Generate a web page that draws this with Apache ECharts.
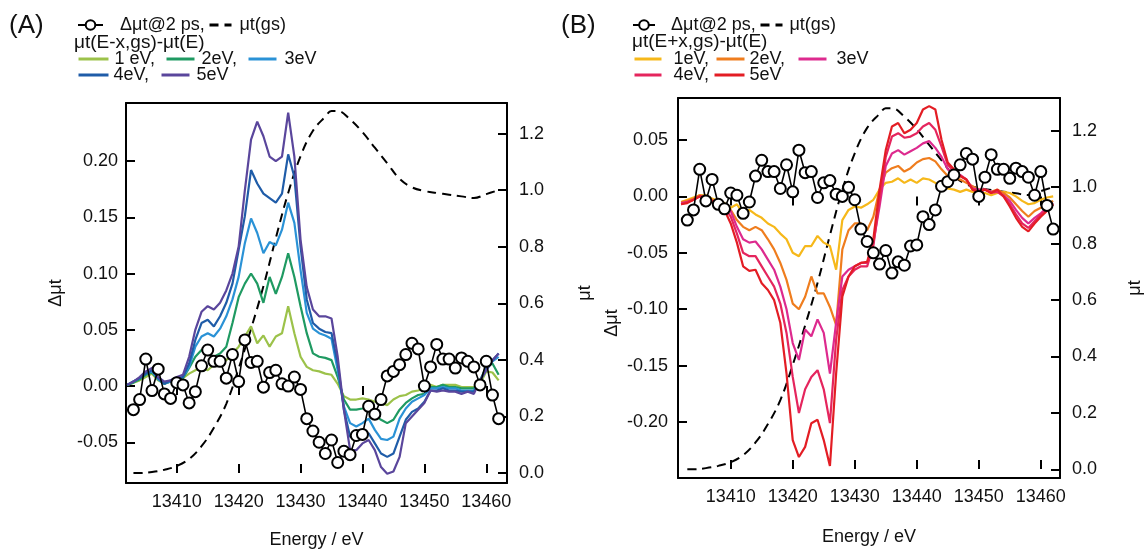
<!DOCTYPE html>
<html><head><meta charset="utf-8">
<script src="https://cdn.jsdelivr.net/npm/echarts@6/dist/echarts.min.js"></script>
<style>html,body{margin:0;padding:0;background:#fff}#c{width:1145px;height:549px}</style>
</head><body><div id="c"></div>
<script>
// ---------------- data ----------------
const energy = [13402,13403,13404,13405,13406,13407,13408,13409,13410,13411,
  13412,13413,13414,13415,13416,13417,13418,13419,13420,13421,
  13422,13423,13424,13425,13426,13427,13428,13429,13430,13431,
  13432,13433,13434,13435,13436,13437,13438,13439,13440,13441,
  13442,13443,13444,13445,13446,13447,13448,13449,13450,13451,
  13452,13453,13454,13455,13456,13457,13458,13459,13460,13461,13462];
const energyDots = [13403,13404,13405,13406,13407,13408,13409,13410,13411,
  13412,13413,13414,13415,13416,13417,13418,13419,13420,13421,
  13422,13423,13424,13425,13426,13427,13428,13429,13430,13431,
  13432,13433,13434,13435,13436,13437,13438,13439,13440,13441,
  13442,13443,13444,13445,13446,13447,13448,13449,13450,13451,
  13452,13453,13454,13455,13456,13457,13458,13459,13460,13461,13462];
const dmu2ps = [-0.021,-0.012,0.024,-0.004,0.015,-0.007,-0.011,0.003,0.001,
  -0.015,-0.005,0.018,0.032,0.022,0.022,0.007,0.028,0.004,0.041,
  0.021,0.022,-0.001,0.012,0.014,0.002,0.000,0.008,-0.003,-0.029,
  -0.040,-0.050,-0.060,-0.048,-0.068,-0.058,-0.061,-0.044,-0.043,-0.018,
  -0.025,-0.012,0.009,0.013,0.019,0.028,0.038,0.033,0.000,0.017,
  0.037,0.024,0.024,0.016,0.025,0.022,0.017,0.001,0.022,-0.008,-0.029];
const energyGs = [13403,13404,13406,13408,13410,13412,13414,13416,13418,13420,13422,13424,13426,13428,13430,
  13432,13434,13435,13436,13438,13440,13442,13444,13446,13448,13450,13452,13454,13456,13458,13460,13462];
const muGs = [0.0,0.0,0.004,0.012,0.025,0.05,0.095,0.16,0.245,0.37,0.51,0.66,0.83,0.99,1.12,
  1.21,1.26,1.28,1.28,1.25,1.205,1.15,1.095,1.04,1.01,0.997,0.99,0.984,0.978,0.972,0.986,1.0];

// panel A : mu(E-x,gs) - mu(E)
const a1 = [0.001,0.003,0.005,0.008,0.011,0.005,0.002,0.004,0.005,0.007,
  0.011,0.014,0.017,0.014,0.019,0.020,0.023,0.029,0.035,0.044,
  0.053,0.038,0.045,0.035,0.044,0.047,0.071,0.047,0.026,0.017,
  0.014,0.013,0.011,0.010,0.002,-0.009,-0.012,-0.012,-0.011,-0.012,
  -0.014,-0.015,-0.017,-0.012,-0.009,-0.008,-0.005,-0.004,-0.002,0.001,
  -0.001,0.001,0.001,0.001,-0.001,-0.001,-0.001,0.002,0.013,0.012,0.005];
const a2 = [0.001,0.003,0.006,0.010,0.012,0.006,0.002,0.004,0.005,0.007,
  0.016,0.026,0.032,0.029,0.026,0.029,0.035,0.056,0.079,0.091,
  0.100,0.091,0.074,0.097,0.082,0.097,0.118,0.097,0.071,0.047,
  0.029,0.026,0.025,0.023,0.008,-0.012,-0.021,-0.021,-0.020,-0.018,
  -0.026,-0.030,-0.033,-0.030,-0.021,-0.015,-0.011,-0.008,-0.007,-0.001,
  -0.001,0.001,-0.001,-0.001,-0.002,-0.002,-0.002,0.005,0.017,0.020,0.010];
const a3 = [0.001,0.004,0.007,0.011,0.013,0.006,0.002,0.004,0.006,0.008,
  0.017,0.035,0.044,0.047,0.044,0.051,0.062,0.077,0.097,0.127,
  0.149,0.136,0.118,0.128,0.125,0.139,0.163,0.145,0.103,0.065,
  0.051,0.047,0.045,0.042,0.014,-0.018,-0.033,-0.036,-0.033,-0.029,
  -0.039,-0.047,-0.048,-0.045,-0.029,-0.020,-0.014,-0.011,-0.008,-0.002,
  -0.002,-0.001,-0.002,-0.002,-0.004,-0.004,-0.004,0.005,0.014,0.022,0.026];
const a4 = [0.001,0.004,0.007,0.011,0.014,0.007,0.002,0.005,0.007,0.008,
  0.020,0.041,0.056,0.059,0.053,0.062,0.074,0.091,0.121,0.151,
  0.192,0.180,0.171,0.167,0.163,0.171,0.206,0.186,0.124,0.077,
  0.056,0.051,0.048,0.047,0.020,-0.021,-0.045,-0.047,-0.044,-0.042,
  -0.051,-0.060,-0.063,-0.060,-0.045,-0.030,-0.023,-0.020,-0.014,-0.004,
  -0.004,-0.002,-0.004,-0.004,-0.005,-0.005,-0.005,0.005,0.016,0.023,0.029];
const a5 = [0.001,0.004,0.008,0.013,0.016,0.008,0.004,0.005,0.008,0.010,
  0.026,0.050,0.066,0.071,0.068,0.074,0.085,0.100,0.124,0.174,
  0.219,0.235,0.222,0.204,0.200,0.204,0.243,0.204,0.130,0.088,
  0.068,0.062,0.062,0.060,0.026,-0.021,-0.057,-0.057,-0.051,-0.048,
  -0.057,-0.072,-0.078,-0.076,-0.063,-0.033,-0.027,-0.021,-0.015,-0.004,
  -0.005,-0.004,-0.005,-0.005,-0.007,-0.005,-0.007,0.005,0.014,0.023,0.029];

// panel B : mu(E+x,gs) - mu(E)
const b1 = [-0.005,-0.003,-0.001,0.001,0.001,-0.002,-0.004,-0.006,-0.010,-0.007,
  -0.015,-0.012,-0.016,-0.019,-0.024,-0.027,-0.033,-0.038,-0.050,-0.053,
  -0.044,-0.044,-0.035,-0.041,-0.044,-0.065,-0.021,-0.012,-0.009,-0.010,
  -0.007,-0.003,0.006,0.012,0.013,0.016,0.012,0.015,0.012,0.016,
  0.015,0.012,0.009,0.007,0.006,0.004,0.006,0.004,0.003,0.003,
  0.001,0.003,0.004,0.003,0.000,-0.004,-0.007,-0.006,-0.003,-0.001,0.000];
const b2 = [-0.005,-0.004,-0.002,0.001,0.000,-0.003,-0.005,-0.007,-0.012,-0.021,
  -0.027,-0.030,-0.027,-0.030,-0.038,-0.047,-0.059,-0.074,-0.095,-0.100,
  -0.089,-0.071,-0.086,-0.086,-0.098,-0.114,-0.047,-0.030,-0.024,-0.024,
  -0.030,-0.018,0.006,0.021,0.025,0.027,0.022,0.025,0.030,0.033,
  0.034,0.031,0.024,0.018,0.016,0.015,0.012,0.009,0.006,0.006,
  0.004,0.006,0.003,-0.001,-0.007,-0.013,-0.018,-0.013,-0.010,-0.007,-0.004];
const b3 = [-0.006,-0.005,-0.003,0.000,-0.001,-0.004,-0.006,-0.008,-0.013,-0.027,
  -0.038,-0.041,-0.040,-0.047,-0.056,-0.065,-0.080,-0.100,-0.130,-0.145,
  -0.118,-0.124,-0.109,-0.121,-0.157,-0.112,-0.071,-0.065,-0.062,-0.059,
  -0.059,-0.041,-0.009,0.027,0.038,0.041,0.037,0.040,0.043,0.047,
  0.049,0.043,0.035,0.024,0.021,0.019,0.015,0.007,0.006,0.006,
  0.004,0.004,0.001,-0.004,-0.012,-0.019,-0.024,-0.019,-0.015,-0.010,-0.006];
const b4 = [-0.007,-0.005,-0.003,0.000,-0.001,-0.004,-0.006,-0.010,-0.018,-0.033,
  -0.050,-0.053,-0.053,-0.062,-0.071,-0.080,-0.095,-0.121,-0.160,-0.192,
  -0.171,-0.160,-0.154,-0.171,-0.201,-0.127,-0.083,-0.071,-0.065,-0.062,
  -0.062,-0.044,-0.003,0.035,0.053,0.056,0.052,0.053,0.056,0.062,
  0.065,0.059,0.044,0.028,0.022,0.018,0.015,0.006,0.004,0.006,
  0.003,0.004,0.000,-0.007,-0.016,-0.024,-0.028,-0.022,-0.016,-0.012,-0.007];
const b5 = [-0.007,-0.006,-0.003,0.000,-0.001,-0.004,-0.006,-0.012,-0.024,-0.041,
  -0.062,-0.066,-0.065,-0.077,-0.083,-0.092,-0.112,-0.157,-0.216,-0.231,
  -0.222,-0.201,-0.198,-0.216,-0.239,-0.157,-0.089,-0.071,-0.062,-0.059,
  -0.058,-0.038,0.006,0.041,0.062,0.065,0.056,0.059,0.065,0.077,
  0.080,0.077,0.050,0.030,0.024,0.018,0.015,0.006,0.004,0.006,
  0.003,0.006,0.000,-0.009,-0.019,-0.027,-0.031,-0.024,-0.018,-0.013,-0.007];

const xTicks = [13410,13420,13430,13440,13450,13460];
const yTicksA = [-0.05,0.00,0.05,0.10,0.15,0.20];
const yTicksB = [-0.20,-0.15,-0.10,-0.05,0.00,0.05];
const muTicks = [0.0,0.2,0.4,0.6,0.8,1.0,1.2];

const namesA = ['1 eV', '2eV', '3eV', '4eV', '5eV'];
const namesB = ['1eV', '2eV', '3eV', '4eV', '5eV'];
const colorsA = ['#9cc24a','#1f9a62','#2a92d6','#1f5ca8','#5a469c'];
const colorsB = ['#f6b81a','#ef7d1e','#dd2a8e','#e5255d','#e31d24'];

// ---------------- chart ----------------
const FONT = "'Liberation Sans', Arial, Helvetica, sans-serif";
const chart = echarts.init(document.getElementById('c'));

const lineCol = '#000';
// inward ticks: outward ticks of a hidden-line axis shifted 9px into the plot
function tickAxis(gi, min, max, pos, ticks) {
  return {
    type: 'value', gridIndex: gi, min, max, position: pos, offset: -9,
    axisLine: { show: false },
    splitLine: { show: false },
    axisTick: { show: true, inside: false, length: 9, customValues: ticks, lineStyle: { width: 2, color: lineCol } },
    axisLabel: { show: false }
  };
}
function frameAxis(gi, min, max, pos, ticks, dec, name, nameGap, margin, namePad) {
  const o = {
    type: 'value', gridIndex: gi, min, max, position: pos,
    axisLine: { show: true, onZero: false, lineStyle: { color: lineCol, width: 2 } },
    splitLine: { show: false },
    axisTick: { show: false },
    axisLabel: { show: !!ticks, customValues: ticks || undefined, margin, fontSize: 18, color: '#111', fontFamily: FONT,
      formatter: v => dec === 0 ? String(Math.round(v)) : v.toFixed(dec) }
  };
  if (name) {
    o.name = name; o.nameLocation = 'middle'; o.nameGap = nameGap;
    o.nameTextStyle = { fontSize: 18, color: '#111', fontFamily: FONT, padding: namePad || 0 };
  }
  return o;
}

function colorLine(name, xi, yi, ys, color) {
  return { name, type: 'line', xAxisIndex: xi, yAxisIndex: yi,
    data: energy.map((e, i) => [e, ys[i]]), symbol: 'none',
    lineStyle: { color, width: 2.2 }, itemStyle: { color }, z: 3 };
}
function gsLine(name, xi, yi) {
  return { name, type: 'line', xAxisIndex: xi, yAxisIndex: yi, smooth: 0.4,
    data: energyGs.map((e, i) => [e, muGs[i]]), symbol: 'none',
    lineStyle: { color: '#000', width: 2, type: [9, 6] }, itemStyle: { color: '#000' }, z: 2 };
}
function dotLine(name, xi, yi) {
  return { name, type: 'line', xAxisIndex: xi, yAxisIndex: yi,
    data: energyDots.map((e, i) => [e, dmu2ps[i]]), symbol: 'circle', symbolSize: 11, showSymbol: true,
    lineStyle: { color: '#000', width: 1.6 },
    itemStyle: { color: '#fff', borderColor: '#000', borderWidth: 2 }, z: 5 };
}

const XA = [13401.8, 13463.35], XB = [13401.5, 13463.1];
const YA = [-0.0862, 0.2516], MA = [-0.035, 1.308];
const YB = [-0.2496, 0.0872], MB = [-0.031, 1.316];

const series = [];
series.push(gsLine('μt(gs) A', 0, 1));
[a1, a2, a3, a4, a5].forEach((ys, k) => series.push(colorLine(namesA[k] + ' A', 0, 0, ys, colorsA[k])));
series.push(dotLine('Δμt@2 ps A', 0, 0));
series.push(gsLine('μt(gs) B', 2, 3));
[b1, b2, b3, b4, b5].forEach((ys, k) => series.push(colorLine(namesB[k] + ' B', 2, 2, ys, colorsB[k])));
series.push(dotLine('Δμt@2 ps B', 2, 2));

function leg(name, text, left, centerY, iconW, pad, noSymbol, ih) {
  const h = ih || 10;
  return { show: true, data: [name], left, top: centerY - 8, orient: 'horizontal',
    itemWidth: iconW, itemHeight: h, itemGap: 0, padding: 0, selectedMode: false,
    formatter: () => text,
    itemStyle: noSymbol ? { opacity: 0 } : {},
    lineStyle: noSymbol ? { width: 3 } : {},
    textStyle: { fontSize: 18, color: '#111', fontFamily: FONT, padding: [0, 0, 0, pad] } };
}
const legends = [
  leg('Δμt@2 ps A', 'Δμt@2 ps,', 77, 24, 25, 12, false, 12),
  leg('μt(gs) A', 'μt(gs)', 208, 24, 22, 3, true),
  leg(namesA[0] + ' A', '1 eV,', 77, 58, 30, 1, true),
  leg(namesA[1] + ' A', '2eV,', 165, 58, 28, 2, true),
  leg(namesA[2] + ' A', '3eV', 247, 58, 28, 3, true),
  leg(namesA[3] + ' A', '4eV,', 77, 74, 30, 0, true),
  leg(namesA[4] + ' A', '5eV', 160, 74, 28, 2, true),
  leg('Δμt@2 ps B', 'Δμt@2 ps,', 632, 24, 22, 11, false, 12),
  leg('μt(gs) B', 'μt(gs)', 759, 24, 22, 2, true),
  leg(namesB[0] + ' B', '1eV,', 633, 58, 27, 7, true),
  leg(namesB[1] + ' B', '2eV,', 715, 58, 28, 0, true),
  leg(namesB[2] + ' B', '3eV', 797, 58, 28, 5, true),
  leg(namesB[3] + ' B', '4eV,', 633, 74, 27, 7, true),
  leg(namesB[4] + ' B', '5eV', 713, 74, 30, 0, true)
];

const option = {
  animation: false,
  backgroundColor: '#fff',
  textStyle: { fontFamily: FONT },
  title: [
    { text: '(A)', left: 9, top: 13, padding: 0, textStyle: { fontSize: 26, fontWeight: 'normal', color: '#111', fontFamily: FONT } },
    { text: '(B)', left: 561, top: 13, padding: 0, textStyle: { fontSize: 26, fontWeight: 'normal', color: '#111', fontFamily: FONT } },
    { text: 'μt(E-x,gs)-μt(E)', left: 74, top: 33, padding: 0, textStyle: { fontSize: 19, fontWeight: 'normal', color: '#111', fontFamily: FONT } },
    { text: 'μt(E+x,gs)-μt(E)', left: 632, top: 32, padding: 0, textStyle: { fontSize: 19, fontWeight: 'normal', color: '#111', fontFamily: FONT } }
  ],
  legend: legends,
  grid: [
    { left: 126, top: 103, width: 381, height: 380, containLabel: false, outerBoundsMode: 'none' },
    { left: 678, top: 98, width: 382, height: 380, containLabel: false, outerBoundsMode: 'none' }
  ],
  xAxis: [
    frameAxis(0, XA[0], XA[1], 'bottom', xTicks, 0, 'Energy / eV', 48, 10),
    frameAxis(0, XA[0], XA[1], 'top', null, 0),
    frameAxis(1, XB[0], XB[1], 'bottom', xTicks, 0, 'Energy / eV', 50, 10),
    frameAxis(1, XB[0], XB[1], 'top', null, 0),
    tickAxis(0, XA[0], XA[1], 'bottom', xTicks),
    tickAxis(0, XA[0], XA[1], 'top', xTicks),
    tickAxis(1, XB[0], XB[1], 'bottom', xTicks),
    tickAxis(1, XB[0], XB[1], 'top', xTicks)
  ],
  yAxis: [
    frameAxis(0, YA[0], YA[1], 'left', yTicksA, 2, 'Δμt', 61, 8),
    frameAxis(0, MA[0], MA[1], 'right', muTicks, 1, 'μt', 69, 12),
    frameAxis(1, YB[0], YB[1], 'left', yTicksB, 2, 'Δμt', 57, 10, [0, 70, 0, 0]),
    frameAxis(1, MB[0], MB[1], 'right', muTicks, 1, 'μt', 66, 12),
    tickAxis(0, YA[0], YA[1], 'left', yTicksA),
    tickAxis(0, MA[0], MA[1], 'right', muTicks),
    tickAxis(1, YB[0], YB[1], 'left', yTicksB),
    tickAxis(1, MB[0], MB[1], 'right', muTicks)
  ],
  series
};
chart.setOption(option);
</script>
</body></html>
